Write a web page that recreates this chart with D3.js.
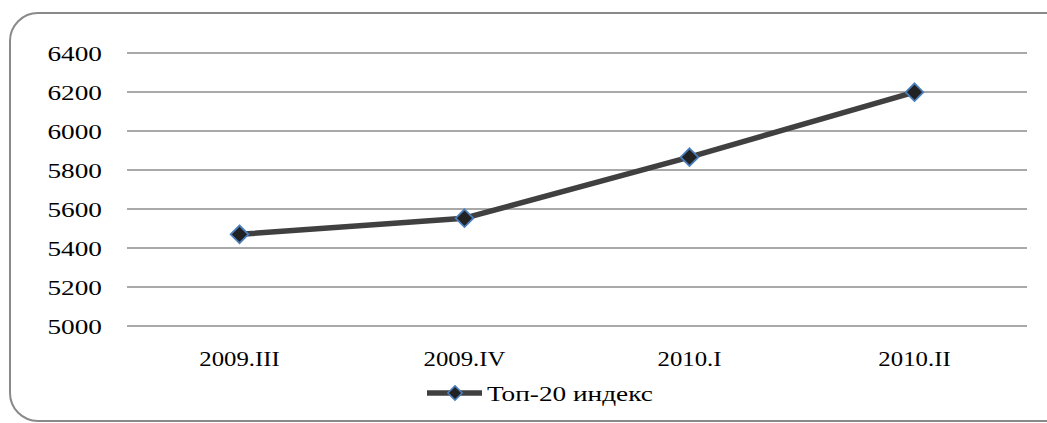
<!DOCTYPE html>
<html>
<head>
<meta charset="utf-8">
<script src="https://cdn.jsdelivr.net/npm/d3@7"></script>
<style>
  body { margin: 0; background: #fff; }
  text { font-family: "Liberation Serif", "Times New Roman", serif; fill: #000; }
</style>
</head>
<body>
<svg id="chart" width="1047" height="423"></svg>
<script>
// data
var categories = ["2009.III", "2009.IV", "2010.I", "2010.II"];
var values = [5470, 5553, 5866, 6199];
var yTicks = [5000, 5200, 5400, 5600, 5800, 6000, 6200, 6400];
var seriesName = "Топ-20 индекс";

var svg = d3.select("#chart");
var plotLeft = 127, plotRight = 1027, plotTop = 53, plotBottom = 326;
var sx = 1.24; // the reference text is stretched sideways

// rounded frame, runs past the right edge
svg.append("rect")
  .attr("x", 10).attr("y", 13)
  .attr("width", 1080).attr("height", 408)
  .attr("rx", 28).attr("ry", 28)
  .attr("fill", "none")
  .attr("stroke", "#8a8a8a")
  .attr("stroke-width", 2);

var x = d3.scaleBand().domain(categories).range([plotLeft, plotRight]);
var y = d3.scaleLinear().domain([5000, 6400]).range([plotBottom, plotTop]);

// grid
svg.append("g").selectAll("line")
  .data(yTicks)
  .enter().append("line")
  .attr("x1", plotLeft).attr("x2", plotRight)
  .attr("y1", d => y(d)).attr("y2", d => y(d))
  .attr("stroke", "#8c8c8c")
  .attr("stroke-width", 1.5);

// y labels
svg.append("g").selectAll("text")
  .data(yTicks)
  .enter().append("text")
  .attr("transform", d => "translate(102," + (y(d) + 7.5) + ") scale(" + sx + ",1)")
  .attr("text-anchor", "end")
  .style("font-size", "22px")
  .text(d => d);

// x labels
svg.append("g").selectAll("text")
  .data(categories)
  .enter().append("text")
  .attr("transform", d => "translate(" + (x(d) + x.bandwidth() / 2) + ",366) scale(" + sx + ",1)")
  .attr("text-anchor", "middle")
  .style("font-size", "20px")
  .text(d => d);

var pts = categories.map((c, i) => [x(c) + x.bandwidth() / 2, y(values[i])]);

svg.append("path")
  .attr("d", d3.line()(pts))
  .attr("fill", "none")
  .attr("stroke", "#404040")
  .attr("stroke-width", 5.5)
  .attr("stroke-linejoin", "round");

var diamond = d3.symbol().type(d3.symbolDiamond2).size(200);

svg.append("g").selectAll("path")
  .data(pts)
  .enter().append("path")
  .attr("d", diamond)
  .attr("transform", d => "translate(" + d[0] + "," + d[1] + ")")
  .attr("fill", "#222")
  .attr("stroke", "#4a7ebb")
  .attr("stroke-width", 1.8);

// legend
var lg = svg.append("g").attr("transform", "translate(0,393)");
lg.append("line")
  .attr("x1", 427).attr("x2", 482)
  .attr("y1", 0).attr("y2", 0)
  .attr("stroke", "#404040")
  .attr("stroke-width", 5.5);
lg.append("path")
  .attr("d", d3.symbol().type(d3.symbolDiamond2).size(130))
  .attr("transform", "translate(455,0)")
  .attr("fill", "#222")
  .attr("stroke", "#4a7ebb")
  .attr("stroke-width", 1.6);
lg.append("text")
  .attr("transform", "translate(487,8) scale(" + sx + ",1)")
  .style("font-size", "22px")
  .text(seriesName);
</script>
</body>
</html>
